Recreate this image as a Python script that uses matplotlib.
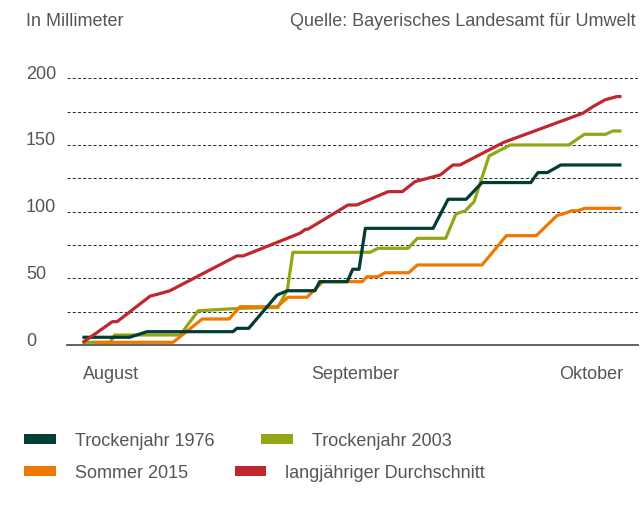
import matplotlib
matplotlib.use("Agg")
import matplotlib.pyplot as plt
import matplotlib.transforms as mtransforms
from matplotlib.patches import Patch

plt.rcParams['font.family'] = ['Liberation Sans', 'DejaVu Sans']

# x = days since 1 August, y = cumulative rainfall in mm
days_1976 = [0, 5.8, 8.0, 18.9, 19.4, 20.9, 24.5, 25.8, 29.3, 29.9, 33.4, 34.1,
             34.9, 35.7, 44.3, 46.2, 48.5, 50.5, 56.7, 57.6, 58.8, 60.5, 68.0]
mm_1976 = [5.8, 5.8, 10, 10, 12.5, 12.5, 37.5, 40.7, 40.7, 47.5, 47.5, 56.8,
           56.8, 87.5, 87.5, 109.3, 109.3, 121.8, 121.8, 129.3, 129.3, 135, 135]

days_2003 = [0, 3.3, 3.9, 12.2, 14.5, 19.8, 24.6, 25.8, 26.5, 36.3, 37.3, 41.1,
             42.3, 45.9, 47.2, 48.4, 49.5, 51.4, 54.1, 61.5, 63.5, 66.2, 67.1, 68.0]
mm_2003 = [2, 2, 7.5, 7.5, 25.7, 27.5, 28.2, 41.2, 69.5, 69.5, 72.5, 72.5,
           80, 80, 98.3, 100.7, 107.5, 141.8, 150, 150, 158, 158, 160.5, 160.5]

days_2015 = [1.65, 11.3, 15.0, 18.4, 19.8, 24.5, 25.9, 28.3, 30.3, 35.3, 35.9, 37.3,
             38.2, 41.2, 42.3, 50.5, 53.6, 57.4, 60.0, 60.8, 61.9, 62.7, 63.5, 68.0]
mm_2015 = [2, 2, 19.5, 19.5, 28.7, 28.7, 35.8, 35.8, 47.5, 47.5, 51.2, 51.2,
           54.2, 54.2, 60, 60, 82, 82, 97, 98.3, 100.7, 100.7, 102.5, 102.5]

days_avg = [0, 3.6, 4.2, 8.4, 9.3, 10.9, 19.4, 20.2, 27.4, 28.1, 28.4, 33.5, 34.6,
            38.6, 40.4, 42.0, 45.2, 46.8, 47.7, 53.2, 54.1, 63.3, 64.6, 66.1, 67.6, 68.0]
mm_avg = [2.5, 17.5, 17.5, 36.7, 38, 40.7, 66.8, 66.8, 83.8, 86.8, 86.8, 105, 105,
          115, 115, 122.5, 127.5, 135, 135, 151.8, 153.8, 173.8, 178.8, 183.8, 186.3, 186.3]

months = ['August', 'September', 'Oktober']
month_start = [0, 31, 61]
y_labels = [0, 50, 100, 150, 200]

c1976 = '#003d33'
c2003 = '#94a516'
c2015 = '#f07800'
cavg = '#c0272d'
textc = '#555555'

fig = plt.figure(figsize=(6.42, 5.07), dpi=100)
ax = fig.add_axes([67 / 642, 162 / 507, 571 / 642, 266.7 / 507])

ax.plot(days_2003, mm_2003, color=c2003, lw=2.3, clip_on=False, zorder=3)
ax.plot(days_2015, mm_2015, color=c2015, lw=2.3, clip_on=False, zorder=4)
ax.plot(days_1976, mm_1976, color=c1976, lw=2.3, clip_on=False, zorder=5)
ax.plot(days_avg, mm_avg, color=cavg, lw=2.3, clip_on=False, zorder=6)

ax.set_xlim(-2.16, 70.3)
ax.set_ylim(0, 200)

for v in range(25, 201, 25):
    ax.axhline(v, color='#333333', lw=0.75, ls=(0, (3, 2)), zorder=1)

for s in ['top', 'right', 'left']:
    ax.spines[s].set_visible(False)
ax.spines['bottom'].set_color('#555555')
ax.spines['bottom'].set_linewidth(1.3)

ax.set_yticks([])
ax.set_xticks([m + 3.4 for m in month_start])
ax.set_xticklabels(months)
ax.tick_params(axis='x', length=0, pad=15, labelsize=13, labelcolor=textc)

ylab_trans = mtransforms.offset_copy(ax.get_yaxis_transform(), fig=fig, y=4, units='dots')
for v in y_labels:
    ax.text(-41 / 571, v, str(v), transform=ylab_trans, ha='left', va='center',
            fontsize=13, color=textc)

fig.text(26 / 642, 1 - 21.5 / 507, 'In Millimeter', ha='left', va='center',
         fontsize=13, color=textc)
fig.text(636 / 642, 1 - 21.5 / 507, 'Quelle: Bayerisches Landesamt für Umwelt',
         ha='right', va='center', fontsize=13, color=textc)

rows = [
    [('Trockenjahr 1976', c1976), ('Trockenjahr 2003', c2003)],
    [('Sommer 2015', c2015), ('langjähriger Durchschnitt', cavg)],
]
row_y = [441, 473]
for row, yy in zip(rows, row_y):
    handles = [Patch(facecolor=c, edgecolor='none', label=l) for l, c in row]
    leg = fig.legend(handles=handles, loc='center left',
                     bbox_to_anchor=(24 / 642, 1 - yy / 507),
                     bbox_transform=fig.transFigure, ncol=2, frameon=False,
                     fontsize=13, handlelength=1.75, handleheight=0.45,
                     handletextpad=1.05, columnspacing=2.6, borderpad=0,
                     borderaxespad=0)
    for t in leg.get_texts():
        t.set_color(textc)

fig.savefig('out.png', dpi=100)
